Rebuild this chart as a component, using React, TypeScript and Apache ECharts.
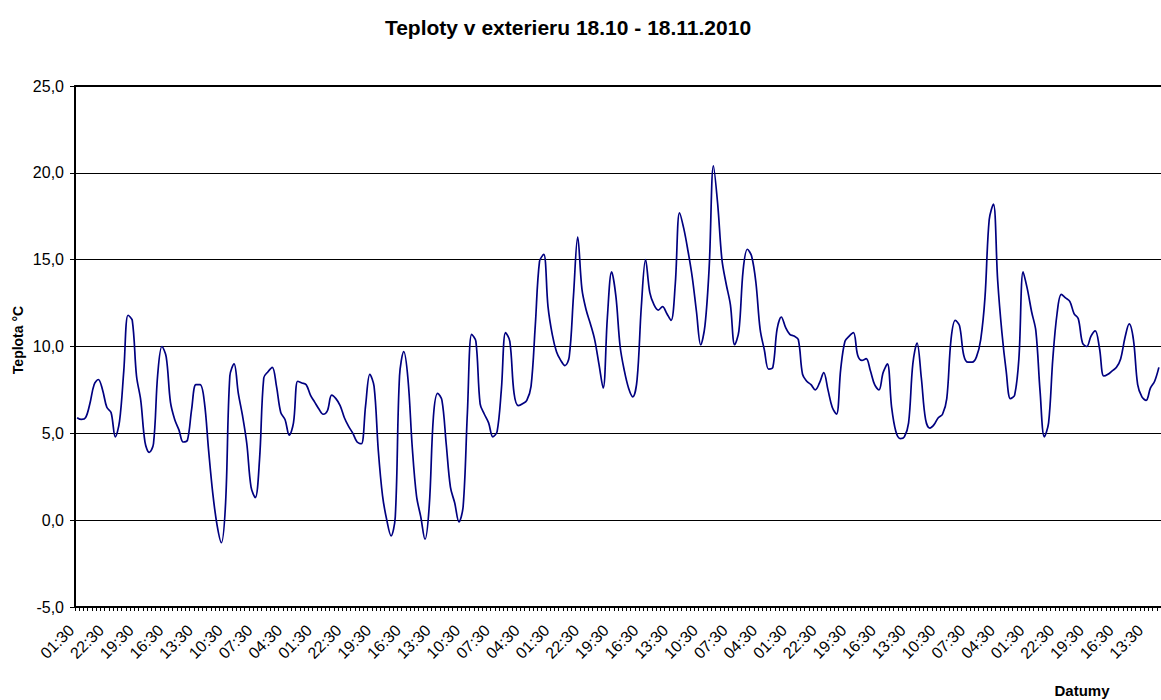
import React, { useEffect, useRef } from "react";
import * as echarts from "echarts";

const TITLE = "Teploty v exterieru 18.10 - 18.11.2010";
const Y_NAME = "Teplota °C";
const X_NAME = "Datumy";

const TIMES_OF_DAY = ["01:30", "04:30", "07:30", "10:30", "13:30", "16:30", "19:30", "22:30"];
const DAY_COUNT = 32;

const Y_TICKS = [-5, 0, 5, 10, 15, 20, 25];

// 3-hour readings, week by week
const temps1 = [
  5.9, 5.8, 5.9, 6.7, 7.8, 8.1, 7.5, 6.5,
  6.2, 4.8, 5.7, 8.6, 11.8, 11.5, 8.3, 6.9,
  4.5, 3.9, 4.4, 8.4, 10.0, 9.4, 6.8, 5.8,
  5.2, 4.5, 4.6, 6.4, 7.8, 7.8, 6.8, 4.0,
  1.5, -0.3, -1.3, 1.0, 8.3, 9.0, 7.3, 6.0,
  4.4, 1.9, 1.3, 3.5, 8.2, 8.55, 8.8, 7.7,
  6.2, 5.8, 4.9, 5.6, 8.0, 7.9, 7.8, 7.2,
  6.8, 6.4, 6.1, 6.3, 7.2, 7.0, 6.6, 5.9,
];
const temps2 = [
  5.4, 5.0, 4.5, 4.4, 6.6, 8.4, 7.7, 4.0,
  1.4, 0.0, -0.9, 0.2, 8.3, 9.7, 8.1, 4.2,
  1.4, 0.2, -1.1, 0.8, 6.0, 7.3, 6.9, 4.4,
  1.9, 1.0, -0.1, 0.8, 6.2, 10.7, 10.3, 6.7,
  6.1, 5.6, 4.8, 5.1, 7.5, 10.8, 10.3, 7.3,
  6.6, 6.7, 6.9, 7.7, 11.2, 14.9, 15.3, 12.3,
  10.7, 9.7, 9.2, 8.9, 9.4, 12.9, 16.3, 13.3,
  12.1, 11.3, 10.4, 9.0, 7.6, 11.7, 14.3, 12.9,
];
const temps3 = [
  10.0, 8.6, 7.6, 7.1, 8.1, 12.3, 15.0, 13.1,
  12.4, 12.1, 12.3, 11.9, 11.5, 13.6, 17.7, 16.8,
  15.5, 14.0, 12.0, 10.1, 11.2, 14.6, 20.4, 18.2,
  15.0, 13.6, 12.4, 10.1, 10.9, 14.4, 15.6, 15.2,
  13.7, 11.0, 9.8, 8.7, 8.8, 11.0, 11.7, 11.1,
  10.7, 10.6, 10.4, 8.4, 8.0, 7.8, 7.5, 7.9,
  8.5, 7.5, 6.5, 6.1, 8.7, 10.3, 10.6, 10.8,
  9.5, 9.2, 9.3, 8.6, 7.8, 7.5, 8.5, 9.0,
];
const temps4 = [
  6.5, 5.1, 4.7, 4.8, 5.6, 9.0, 10.2, 8.2,
  5.8, 5.3, 5.5, 5.9, 6.1, 7.0, 10.4, 11.5,
  11.2, 9.5, 9.1, 9.1, 9.4, 10.4, 12.8, 17.3,
  18.2, 13.8, 10.8, 8.6, 7.0, 7.2, 9.3, 14.3,
  13.3, 12.0, 10.9, 7.4, 4.8, 5.6, 9.3, 11.9,
  13.0, 12.8, 12.6, 11.9, 11.6, 10.2, 10.0, 10.6,
  10.9, 9.9, 8.3, 8.4, 8.6, 8.8, 9.3, 10.5,
  11.3, 10.4, 7.8, 7.1, 6.9, 7.6, 8.0, 8.8,
];

const temps = [...temps1, ...temps2, ...temps3, ...temps4];
const categories: string[] = [];
for (let d = 0; d < DAY_COUNT; d++) categories.push(...TIMES_OF_DAY);

const FONT = "'Liberation Sans', Arial, sans-serif";

export default function App() {
  const ref = useRef<HTMLDivElement>(null);
  useEffect(() => {
    if (!ref.current) return;
    const chart = echarts.init(ref.current, undefined, { renderer: "svg" });
    chart.setOption({
      animation: false,
      backgroundColor: "#ffffff",
      textStyle: { fontFamily: FONT },
      grid: { left: 75, right: 0, top: 86, bottom: 93, containLabel: false },
      xAxis: [
        {
          type: "category",
          data: categories,
          boundaryGap: true,
          position: "bottom",
          axisLine: { show: true, onZero: false, lineStyle: { color: "#000", width: 2 } },
          axisTick: { show: true, interval: 0, length: 4, lineStyle: { color: "#000", width: 1 } },
          axisLabel: {
            interval: 6,
            rotate: 45,
            margin: 15,
            padding: [0, 8, 0, 0],
            color: "#000",
            fontSize: 16,
            fontFamily: FONT,
          },
          splitLine: { show: false },
        },
        {
          type: "category",
          data: categories,
          position: "top",
          boundaryGap: true,
          axisLine: { show: true, onZero: false, lineStyle: { color: "#000", width: 2 } },
          axisTick: { show: false },
          axisLabel: { show: false },
          splitLine: { show: false },
        },
      ],
      yAxis: {
        type: "value",
        min: Y_TICKS[0],
        max: Y_TICKS[Y_TICKS.length - 1],
        interval: 5,
        axisLine: { show: true, onZero: false, lineStyle: { color: "#000", width: 2 } },
        axisTick: { show: true, length: 5, lineStyle: { color: "#000", width: 1 } },
        axisLabel: {
          margin: 11,
          color: "#000",
          fontSize: 16,
          fontFamily: FONT,
          formatter: (v: number) => v.toFixed(1).replace(".", ","),
        },
        splitLine: { show: true, lineStyle: { color: "#000", width: 1 } },
      },
      graphic: [
        {
          type: "text",
          x: 568,
          y: 27,
          style: {
            text: TITLE,
            font: `bold 21px ${FONT}`,
            fill: "#000",
            textAlign: "center",
            textVerticalAlign: "middle",
          },
        },
        {
          type: "text",
          x: 18,
          y: 340,
          rotation: Math.PI / 2,
          style: {
            text: Y_NAME,
            font: `bold 14px ${FONT}`,
            fill: "#000",
            textAlign: "center",
            textVerticalAlign: "middle",
          },
        },
        {
          type: "text",
          x: 1082,
          y: 690,
          style: {
            text: X_NAME,
            font: `bold 15px ${FONT}`,
            fill: "#000",
            textAlign: "center",
            textVerticalAlign: "middle",
          },
        },
      ],
      series: [
        {
          type: "line",
          data: temps,
          smooth: 0.35,
          symbol: "none",
          lineStyle: { color: "#000080", width: 1.7 },
          clip: false,
        },
      ],
    });
    return () => chart.dispose();
  }, []);
  return (
    <div
      ref={ref}
      style={{ position: "fixed", left: 0, top: 0, width: 1161, height: 700, background: "#fff" }}
    />
  );
}
